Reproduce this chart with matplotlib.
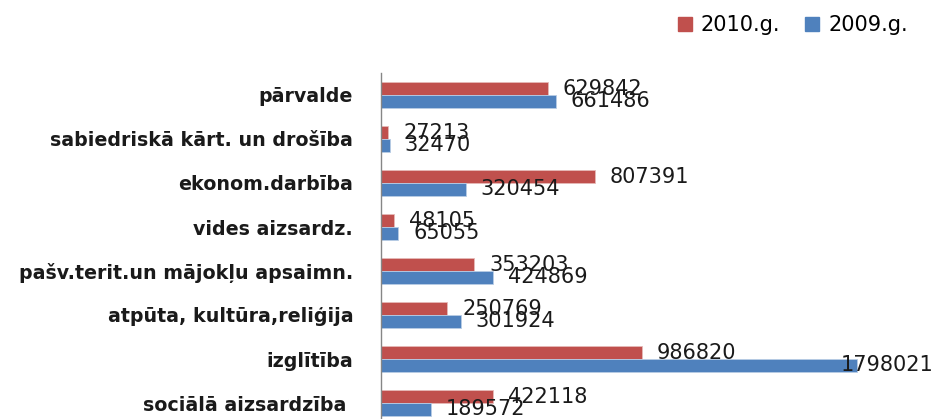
import numpy as np
from matplotlib import pyplot as plt
from matplotlib.patches import Patch

# data
categories = ['pārvalde', 'sabiedriskā kārt. un drošība', 'ekonom.darbība',
              'vides aizsardz.', 'pašv.terit.un mājokļu apsaimn.',
              'atpūta, kultūra,reliģija', 'izglītība', 'sociālā aizsardzība ']
y2010 = [629842, 27213, 807391, 48105, 353203, 250769, 986820, 422118]
y2009 = [661486, 32470, 320454, 65055, 424869, 301924, 1798021, 189572]

red = '#C0504D'
blue = '#4F81BD'

fig = plt.figure(figsize=(9.38, 4.19), dpi=100)
# plot area runs a bit below the bottom edge, as in the cropped original
ax = fig.add_axes([381/938, -6/419, 529/938, 352/419])

y = np.arange(len(categories))
h = 0.29
ax.barh(y - h/2, y2010, height=h, color=red, edgecolor='#e6b9b8', linewidth=0.6)
ax.barh(y + h/2, y2009, height=h, color=blue, edgecolor='#b9cde5', linewidth=0.6)

ax.set_ylim(len(categories) - 0.5, -0.5)
ax.set_xlim(0, 2000000)
ax.set_yticks(y)
ax.set_yticklabels(categories, fontsize=13.7, fontweight='bold', color='#1a1a1a')
ax.tick_params(axis='y', length=0, pad=20)
ax.set_xticks([])
for s in ['top', 'right', 'bottom']:
    ax.spines[s].set_visible(False)
ax.spines['left'].set_color('#868686')
ax.spines['left'].set_linewidth(1)

# value labels
xmax = 2000000
for vals, off in [(y2010, -h/2), (y2009, h/2)]:
    for i, v in enumerate(vals):
        if v / xmax > 0.85:
            ax.annotate(str(v), xy=(1.0, i + off),
                        xycoords=('axes fraction', 'data'),
                        xytext=(23, 0), textcoords='offset pixels',
                        ha='right', va='center', fontsize=15, color='#1a1a1a')
        else:
            ax.annotate(str(v), xy=(v, i + off), xytext=(15, 0),
                        textcoords='offset pixels', ha='left', va='center',
                        fontsize=15, color='#1a1a1a')

handles = [Patch(color=red, label='2010.g.'), Patch(color=blue, label='2009.g.')]
fig.legend(handles=handles, loc='center right', bbox_to_anchor=(0.968, 0.94),
           ncol=2, frameon=False, fontsize=15, handlelength=0.65,
           handleheight=0.65, handletextpad=0.45, columnspacing=1.2,
           borderpad=0, borderaxespad=0)

fig.savefig('out.png', dpi=100)
